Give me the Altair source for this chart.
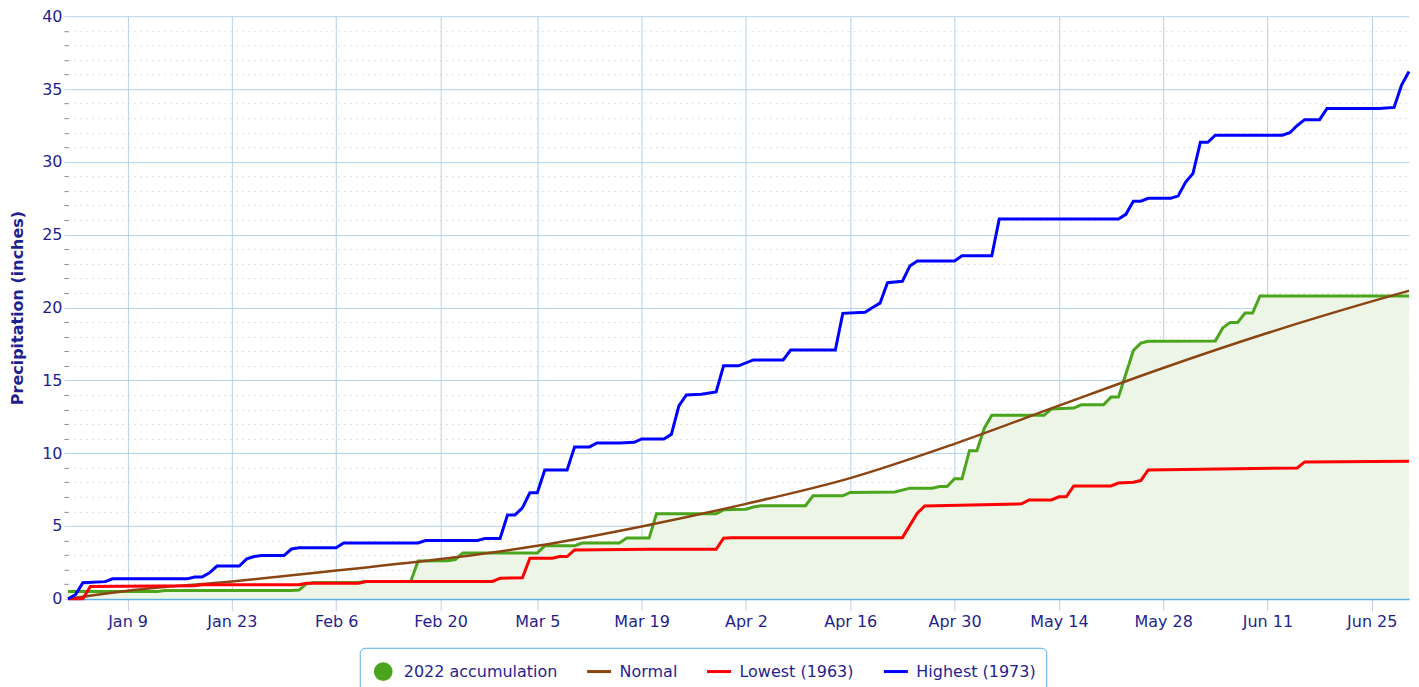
import altair as alt
import pandas as pd

# ---- data (day offsets from Jan 1 2022, values in inches) ----
series_names = ["2022 accumulation", "Normal", "Lowest (1963)", "Highest (1973)"]
series_colors = ["#4aa51c", "#8b4513", "#ff0000", "#0000ff"]
legend_fills = ["#4aa51c", "transparent", "transparent", "transparent"]
CIRCLE = "M-0.66,0A0.66,0.66,0,1,1,0.66,0A0.66,0.66,0,1,1,-0.66,0Z"
DASH = "M0,-0.66M0,0.66M-1,0H1"
legend_shapes = [CIRCLE, DASH, DASH, DASH]

green_days = [0, 12, 13, 30, 31, 32, 33, 39, 40, 46, 47, 51, 52, 53, 63, 64, 68, 69, 74, 75,
              78, 79, 87, 88, 91, 92, 93, 99, 100, 104, 105, 111, 113, 116, 117, 118, 119, 120, 121, 122,
              123, 124, 131, 132, 135, 136, 139, 140, 141, 143, 144, 145, 154, 155, 156, 157, 158, 159, 160, 180]
green_vals = [0.5, 0.5, 0.57, 0.57, 0.6, 1.03, 1.12, 1.12, 1.19, 1.19, 2.6, 2.62, 2.7, 3.15, 3.15, 3.64, 3.64, 3.83, 3.83, 4.17,
              4.17, 5.84, 5.84, 6.11, 6.15, 6.3, 6.39, 6.39, 7.07, 7.07, 7.3, 7.33, 7.6, 7.6, 7.71, 7.71, 8.24, 8.24, 10.17, 10.17,
              11.72, 12.6, 12.6, 13.03, 13.1, 13.32, 13.32, 13.85, 13.85, 17.05, 17.56, 17.68, 17.7, 18.6, 18.98, 18.98, 19.62, 19.62, 20.8, 20.8]

normal_days = [0, 8, 22, 36, 52, 63, 77, 91, 105, 119, 133, 147, 161, 175, 180]
normal_vals = [0.0, 0.55, 1.19, 1.94, 2.85, 3.64, 4.97, 6.52, 8.29, 10.64, 13.26, 15.85, 18.25, 20.42, 21.15]

red_days = [0, 2, 3, 17, 18, 31, 32, 39, 40, 57, 58, 61, 62, 65, 66, 67, 68, 78, 87, 88,
            89, 112, 114, 115, 128, 129, 132, 133, 134, 135, 140, 141, 143, 144, 145, 165, 166, 180]
red_vals = [0, 0, 0.85, 0.9, 0.96, 0.96, 1.07, 1.07, 1.19, 1.19, 1.42, 1.44, 2.79, 2.79, 2.9, 2.9, 3.36, 3.4, 3.4, 4.16,
            4.2, 4.2, 5.88, 6.38, 6.52, 6.79, 6.79, 7.0, 7.0, 7.75, 7.75, 7.95, 8.0, 8.12, 8.85, 8.99, 9.4, 9.45]

blue_days = [0, 1, 2, 5, 6, 16, 17, 18, 19, 20, 23, 24, 25, 26, 29, 30, 31, 36, 37, 47,
             48, 55, 56, 58, 59, 60, 61, 62, 63, 64, 67, 68, 70, 71, 74, 76, 77, 80, 81, 82,
             83, 85, 87, 88, 90, 92, 96, 97, 103, 104, 107, 108, 109, 110, 112, 113, 114, 119, 120, 124,
             125, 141, 142, 143, 144, 145, 148, 149, 150, 151, 152, 153, 154, 163, 164, 165, 166, 168, 169, 176,
             178, 179, 180]
blue_vals = [0.0, 0.27, 1.1, 1.18, 1.37, 1.37, 1.5, 1.5, 1.78, 2.25, 2.25, 2.74, 2.9, 2.97, 2.97, 3.42, 3.5, 3.5, 3.84, 3.84,
             4.0, 4.0, 4.15, 4.15, 5.76, 5.76, 6.24, 7.28, 7.28, 8.85, 8.85, 10.43, 10.43, 10.7, 10.7, 10.75, 10.98, 10.98, 11.3, 13.24,
             14.0, 14.05, 14.2, 16.0, 16.0, 16.4, 16.4, 17.08, 17.08, 19.6, 19.68, 20.0, 20.3, 21.7, 21.8, 22.85, 23.2, 23.2, 23.55, 23.55,
             26.07, 26.07, 26.4, 27.3, 27.3, 27.5, 27.5, 27.65, 28.6, 29.2, 31.35, 31.35, 31.83, 31.83, 32.0, 32.5, 32.9, 32.9, 33.67, 33.67,
             33.74, 35.27, 36.2]

tick_dates = ["2022-01-09", "2022-01-23", "2022-02-06", "2022-02-20", "2022-03-05", "2022-03-19",
              "2022-04-02", "2022-04-16", "2022-04-30", "2022-05-14", "2022-05-28", "2022-06-11", "2022-06-25"]

start = pd.Timestamp("2022-01-01")


def frame(days, vals, name):
    return pd.DataFrame({
        "date": [(start + pd.Timedelta(days=d)).strftime("%Y-%m-%d") for d in days],
        "value": vals,
        "series": name,
    })


df_green = frame(green_days, green_vals, series_names[0])
df_normal = frame(normal_days, normal_vals, series_names[1])
df_red = frame(red_days, red_vals, series_names[2])
df_blue = frame(blue_days, blue_vals, series_names[3])
df_keys = pd.DataFrame({"date": ["2022-01-01"] * 4, "value": [0] * 4, "series": series_names})

NAVY = "#1f1f8f"
GRID = "#b4d2ec"
FONT = "DejaVu Sans"
FS = 16


def dt(s):
    y, m, d = (int(p) for p in s.split("-"))
    return alt.DateTime(year=y, month=m, date=d, utc=True)


x_enc = alt.X(
    "date:T",
    scale=alt.Scale(type="utc", domain=[dt("2022-01-01"), dt("2022-06-30")]),
    axis=alt.Axis(
        title=None, values=[dt(s) for s in tick_dates], format="%b %-d",
        grid=True, gridColor=GRID, gridWidth=1,
        domainColor="#5cb0e6", domainWidth=2,
        tickColor="#c8cbe8", tickSize=12, labelPadding=3,
        labelFont=FONT, labelFontSize=FS, labelColor=NAVY,
    ),
)
y_enc = alt.Y(
    "value:Q",
    scale=alt.Scale(domain=[0, 40], nice=False),
    axis=alt.Axis(
        title="Precipitation (inches)", values=list(range(0, 41)),
        labelExpr="datum.value % 5 === 0 ? datum.label : ''",
        grid=True,
        gridColor={"condition": {"test": "datum.value % 5 !== 0", "value": "#d4d4d4"}, "value": GRID},
        gridDash={"condition": {"test": "datum.value % 5 !== 0", "value": [1.5, 4.5]}, "value": []},
        gridWidth=1,
        tickColor={"condition": {"test": "datum.value % 5 !== 0", "value": "#888888"}, "value": GRID},
        tickSize=4, domain=False, labelPadding=2,
        labelFont=FONT, labelFontSize=FS, labelColor=NAVY,
        titleFont=FONT, titleFontSize=FS, titleFontWeight="bold", titleColor=NAVY, titlePadding=16,
    ),
)

legend = alt.Legend(
    title=None, orient="none", legendX=292, legendY=632, direction="horizontal", columns=4,
    symbolStrokeWidth=3, symbolOpacity=1, symbolSize=576,
    labelFont=FONT, labelFontSize=FS, labelColor=NAVY, labelOffset=7,
    columnPadding=23, padding=10, strokeColor="#5aaee6", cornerRadius=5, fillColor="white",
)
color_enc = alt.Color("series:N", scale=alt.Scale(domain=series_names, range=series_colors), legend=legend)
fill_enc = alt.Fill("series:N", scale=alt.Scale(domain=series_names, range=legend_fills), legend=legend)
shape_enc = alt.Shape("series:N", scale=alt.Scale(domain=series_names, range=legend_shapes), legend=legend)

area = alt.Chart(df_green).mark_area(color="#edf5e6", opacity=1).encode(x=x_enc, y=y_enc)
line_green = alt.Chart(df_green).mark_line(strokeWidth=3).encode(x=x_enc, y=y_enc, color=color_enc)
line_normal = alt.Chart(df_normal).mark_line(strokeWidth=2.5, interpolate="monotone").encode(x=x_enc, y=y_enc, color=color_enc)
line_red = alt.Chart(df_red).mark_line(strokeWidth=3).encode(x=x_enc, y=y_enc, color=color_enc)
line_blue = alt.Chart(df_blue).mark_line(strokeWidth=3).encode(x=x_enc, y=y_enc, color=color_enc)
keys = alt.Chart(df_keys).mark_point(opacity=0, size=576).encode(
    x=x_enc, y=y_enc, color=color_enc, fill=fill_enc, shape=shape_enc
)

chart = alt.layer(area, line_green, line_normal, line_red, line_blue, keys).properties(
    width=1342, height=583,
    autosize=alt.AutoSizeParams(type="none"),
    padding={"left": 60, "top": 8, "right": 2, "bottom": 90},
).configure_view(strokeOpacity=0)

chart.save("out.html", embed_options={"renderer": "svg", "actions": False})
